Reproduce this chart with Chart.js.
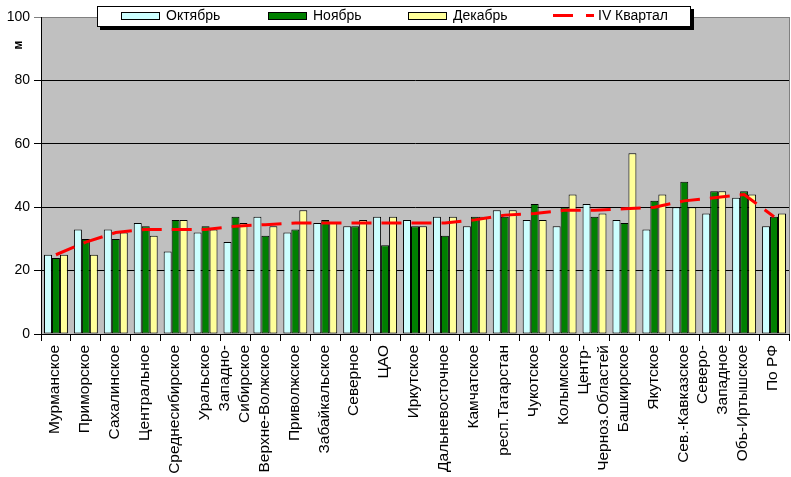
<!DOCTYPE html>
<html>
<head>
<meta charset="utf-8">
<script src="https://cdn.jsdelivr.net/npm/chart.js@4/dist/chart.umd.min.js"></script>
<style>
  html, body { margin: 0; padding: 0; background: #fff; }
  canvas { display: block; }
</style>
</head>
<body>
<canvas id="c" width="791" height="477"></canvas>
<script>
const regions = ["Мурманское","Приморское","Сахалинское","Центральное","Среднесибирское","Уральское",
  ["Западно-","Сибирское"],"Верхне-Волжское","Приволжское","Забайкальское","Северное","ЦАО","Иркутское",
  "Дальневосточное","Камчатское","респ.Татарстан","Чукотское","Колымское",["Центр-","Черноз.Областей"],
  "Башкирское","Якутское","Сев.-Кавказское",["Северо-","Западное"],"Обь-Иртышское","По РФ"];
const october  = [25,33,33,35,26,32,29,37,32,35,34,37,36,37,34,39,36,34,41,36,33,40,38,43,34];
const november = [24,30,30,34,36,34,37,31,33,36,34,28,34,31,37,37,41,40,37,35,42,48,45,45,37];
const december = [25,25,32,31,36,33,35,34,39,35,36,37,34,37,37,39,36,44,38,57,44,40,45,44,38];
const quarter  = [25,29,32,33,33,33,34,34.5,35,35,35,35,35,35,36,37.5,38,39,39,39.5,40,42,43,44,37];
const yTicks = [0,20,40,60,80,100];
const yTitle = "м";
const seriesNames = ["Октябрь","Ноябрь","Декабрь","IV Квартал"];

const FONT = '"Liberation Sans", Arial, sans-serif';

const decor = {
  id: 'decor',
  beforeDraw(chart) {
    const {ctx, chartArea: a} = chart;
    ctx.save();
    ctx.fillStyle = '#C0C0C0';
    ctx.fillRect(a.left, a.top, a.right - a.left, a.bottom - a.top);
    ctx.restore();
  },
  afterDraw(chart) {
    const {ctx, chartArea: a} = chart;
    const xs = chart.scales.x;
    ctx.save();
    ctx.strokeStyle = '#808080';
    ctx.lineWidth = 1;
    ctx.beginPath();
    ctx.moveTo(a.right + 0.5, a.top);
    ctx.lineTo(a.right + 0.5, a.bottom);
    ctx.stroke();

    // x labels
    ctx.font = '15.5px ' + FONT;
    ctx.fillStyle = '#000';
    ctx.textAlign = 'right';
    ctx.textBaseline = 'middle';
    chart.data.labels.forEach((lab, i) => {
      const lines = Array.isArray(lab) ? lab : [lab];
      const px = xs.getPixelForValue(i);
      lines.forEach((ln, j) => {
        const cx = px + (j - (lines.length - 1) / 2) * 20 - 1;
        ctx.save();
        ctx.translate(cx, xs.top + 11);
        ctx.rotate(-Math.PI / 2);
        ctx.fillText(ln, 0, 0);
        ctx.restore();
      });
    });

    // y title
    ctx.save();
    ctx.font = 'bold 12px ' + FONT;
    ctx.textAlign = 'center';
    ctx.textBaseline = 'middle';
    ctx.translate(19, 45);
    ctx.rotate(-Math.PI / 2);
    ctx.fillText(yTitle, 0, 0);
    ctx.restore();

    // legend
    const L = 97, T = 6, W = 594, H = 21;
    ctx.fillStyle = '#000';
    ctx.fillRect(L + 3, T + 3, W, H);
    ctx.fillStyle = '#fff';
    ctx.fillRect(L, T, W, H);
    ctx.strokeStyle = '#000';
    ctx.strokeRect(L + 0.5, T + 0.5, W - 1, H - 1);
    const ds = chart.data.datasets;
    const boxX = [121, 268, 408];
    ctx.font = '14px ' + FONT;
    ctx.textAlign = 'left';
    ctx.textBaseline = 'middle';
    for (let k = 0; k < 3; k++) {
      ctx.fillStyle = ds[k].backgroundColor;
      ctx.fillRect(boxX[k], 12, 39, 8);
      ctx.strokeStyle = '#000';
      ctx.strokeRect(boxX[k] + 0.5, 12.5, 38, 7);
      ctx.fillStyle = '#000';
      ctx.fillText(ds[k].label, boxX[k] + 45, 16.5);
    }
    ctx.strokeStyle = ds[3].borderColor;
    ctx.lineWidth = 3;
    ctx.beginPath();
    ctx.moveTo(553, 15.5); ctx.lineTo(573, 15.5);
    ctx.moveTo(586, 15.5); ctx.lineTo(594, 15.5);
    ctx.stroke();
    ctx.fillStyle = '#000';
    ctx.fillText(ds[3].label, 598, 16.5);
    ctx.restore();
  }
};

new Chart(document.getElementById('c'), {
  type: 'bar',
  data: {
    labels: regions,
    datasets: [
      { label: seriesNames[0], data: october, backgroundColor: '#CCFFFF', borderColor: '#000', borderWidth: 1, order: 1 },
      { label: seriesNames[1], data: november, backgroundColor: '#008000', borderColor: '#000', borderWidth: 1, order: 1 },
      { label: seriesNames[2], data: december, backgroundColor: '#FFFF99', borderColor: '#000', borderWidth: 1, order: 1 },
      { type: 'line', label: seriesNames[3], data: quarter, borderColor: '#FF0000', borderWidth: 3,
        borderDash: [20, 10], pointRadius: 0, tension: 0, fill: false, order: 0 }
    ]
  },
  options: {
    responsive: false,
    devicePixelRatio: 1,
    animation: false,
    layout: { padding: { top: 17, right: 2, left: 0, bottom: 0 } },
    datasets: { bar: { categoryPercentage: 0.8, barPercentage: 1.0, borderSkipped: false } },
    plugins: { legend: { display: false }, tooltip: { enabled: false } },
    scales: {
      x: {
        offset: true,
        grid: { offset: true, drawOnChartArea: false, drawTicks: true, tickLength: 7, color: '#000' },
        border: { color: '#000' },
        ticks: { display: false },
        afterFit(s) { s.height = 143; }
      },
      y: {
        min: 0, max: 100,
        afterBuildTicks(s) { s.ticks = yTicks.map(v => ({ value: v })); },
        grid: { color: c => (c.tick && c.tick.value === 100) ? '#808080' : '#000', tickLength: 7 },
        border: { color: '#000' },
        ticks: { padding: 4, color: '#000', font: { family: FONT, size: 14 } },
        afterFit(s) { s.width = 41; }
      }
    }
  },
  plugins: [decor]
});
</script>
</body>
</html>
